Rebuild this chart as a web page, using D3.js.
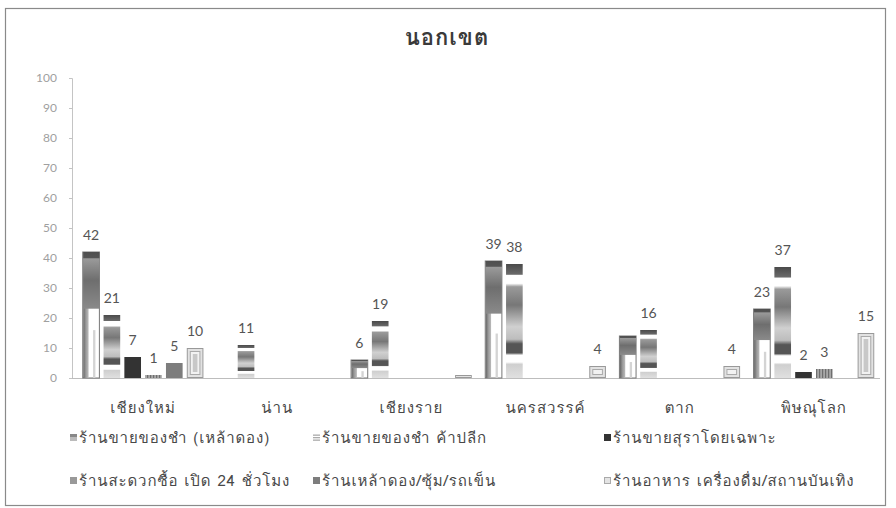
<!DOCTYPE html>
<html>
<head>
<meta charset="utf-8">
<script src="https://cdn.jsdelivr.net/npm/d3@7"></script>
<style>
  html, body { margin: 0; padding: 0; background: #fff; }
  svg { display: block; }
  .thai { font-family: "Loma", "Garuda", "Tahoma", "Noto Sans Thai Looped", "Noto Sans Thai", "Noto Sans", "DejaVu Sans", sans-serif; }
</style>
</head>
<body>
<svg id="chart" width="896" height="508"></svg>
<script>
// Provinces outside the municipal area
const categories = ['เชียงใหม่', 'น่าน', 'เชียงราย', 'นครสวรรค์', 'ตาก', 'พิษณุโลก'];

const seriesNames = [
  'ร้านขายของชำ (เหล้าดอง)',
  'ร้านขายของชำ ค้าปลีก',
  'ร้านขายสุราโดยเฉพาะ',
  'ร้านสะดวกซื้อ เปิด 24 ชั่วโมง',
  'ร้านเหล้าดอง/ซุ้ม/รถเข็น',
  'ร้านอาหาร เครื่องดื่ม/สถานบันเทิง'
];

// Number of outlets per province, one array per outlet type
const groceryPickled = [42, 0, 6, 39, 14, 23];
const groceryRetail  = [21, 11, 19, 38, 16, 37];
const liquorShops    = [7, 0, 0, 0, 0, 2];
const convenience    = [1, 0, 0, 0, 0, 3];
const stalls         = [5, 0, 0, 0, 0, 0];
const restaurants    = [10, 0, 1, 4, 4, 15];

// Bars whose value label is not printed: [province, series index]
const unlabeled = [['ตาก', 0], ['เชียงราย', 5]];

const yTicks = [0, 10, 20, 30, 40, 50, 60, 70, 80, 90, 100];

const seriesValues = [groceryPickled, groceryRetail, liquorShops, convenience, stalls, restaurants];

const svg = d3.select('#chart');
const defs = svg.append('defs');

// Banded vertical gradient for the retail grocery series
const g2 = defs.append('linearGradient').attr('id', 'bands').attr('x1', 0).attr('y1', 0).attr('x2', 0).attr('y2', 1);
[[0, '#4a4a4a'], [0.09, '#6a6a6a'], [0.1, '#fff'], [0.17, '#fff'], [0.2, '#9a9a9a'], [0.36, '#777'],
 [0.55, '#d0d0d0'], [0.66, '#bdbdbd'], [0.7, '#555'], [0.78, '#555'], [0.8, '#fff'], [0.86, '#fff'],
 [0.88, '#cfcfcf'], [1, '#e0e0e0']].forEach(([o, c]) => g2.append('stop').attr('offset', o).attr('stop-color', c));

// Shaded upper block of the pickled-liquor grocery series
const g1 = defs.append('linearGradient').attr('id', 'upper').attr('x1', 0).attr('y1', 0).attr('x2', 0).attr('y2', 1);
[[0, '#4f4f4f'], [0.1, '#555'], [0.12, '#9a9a9a'], [0.5, '#6e6e6e'], [1, '#8a8a8a']]
  .forEach(([o, c]) => g1.append('stop').attr('offset', o).attr('stop-color', c));
const g1l = defs.append('linearGradient').attr('id', 'leftcol').attr('x1', 0).attr('y1', 0).attr('x2', 1).attr('y2', 0);
[[0, '#666'], [0.5, '#9a9a9a'], [1, '#bbb']].forEach(([o, c]) => g1l.append('stop').attr('offset', o).attr('stop-color', c));

// Vertical hatching for convenience stores
const p4 = defs.append('pattern').attr('id', 'vlines').attr('patternUnits', 'userSpaceOnUse').attr('width', 3).attr('height', 3);
p4.append('rect').attr('width', 3).attr('height', 3).attr('fill', '#a8a8a8');
p4.append('rect').attr('width', 1.2).attr('height', 3).attr('fill', '#6e6e6e');

const yScale = d3.scaleLinear().domain([0, 100]).range([378, 78]);
const x0 = d3.scaleBand().domain(categories).range([76, 881]).paddingInner(0).paddingOuter(0);
const bw = x0.bandwidth();
const x1 = d3.scaleBand().domain(d3.range(seriesNames.length)).range([bw / 2 - 64.5, bw / 2 + 64.5]).padding(0.2);

// Frame
svg.append('rect').attr('x', 5.5).attr('y', 8.5).attr('width', 880).attr('height', 497)
  .attr('fill', '#fff').attr('stroke', '#8a8a8a').attr('stroke-width', 1.2);

// Title
svg.append('text').attr('class', 'thai').attr('x', 447).attr('y', 45)
  .attr('text-anchor', 'middle').attr('font-size', 22).attr('font-weight', 'bold')
  .attr('letter-spacing', 1).attr('fill', '#3a3a3a')
  .text('นอกเขต');

// Y axis
const yAxis = svg.append('g').attr('transform', 'translate(72,0)')
  .call(d3.axisLeft(yScale).tickValues(yTicks).tickSize(3).tickPadding(12));
yAxis.select('.domain').attr('stroke', '#c4c4c4');
yAxis.selectAll('.tick line').attr('stroke', '#c4c4c4');
yAxis.selectAll('.tick text').attr('font-family', 'Lato, "Open Sans", sans-serif')
  .attr('font-size', 12).attr('fill', '#a0a0a0');

// X axis
const xAxis = svg.append('g').attr('transform', 'translate(0,378)')
  .call(d3.axisBottom(x0).tickSize(0).tickPadding(24));
xAxis.select('.domain').attr('stroke', '#bdbdbd').attr('d', 'M72,0.5H880');
xAxis.selectAll('.tick text').attr('class', 'thai').attr('font-size', 15)
  .attr('letter-spacing', 1).attr('fill', '#484848');

// Bars
const bars = [];
categories.forEach((c, ci) => {
  seriesValues.forEach((vals, si) => {
    bars.push({ cat: c, si, v: vals[ci] });
  });
});

const barW = x1.bandwidth();
const plot = svg.append('g');

function drawBar(g, d) {
  const x = x0(d.cat) + x1(d.si);
  const y = yScale(d.v);
  const h = yScale(0) - y;
  const w = barW;
  if (h <= 0) return;
  if (d.si === 0) {
    g.append('rect').attr('x', x).attr('y', y).attr('width', w).attr('height', h)
      .attr('fill', '#fff').attr('stroke', '#777').attr('stroke-width', 1);
    g.append('rect').attr('x', x + 0.5).attr('y', y).attr('width', w * 0.32).attr('height', h).attr('fill', 'url(#leftcol)');
    g.append('rect').attr('x', x + 0.5).attr('y', y).attr('width', w - 0.5).attr('height', h * 0.45).attr('fill', 'url(#upper)');
    g.append('rect').attr('x', x + w * 0.62).attr('y', y + h * 0.62).attr('width', w * 0.14).attr('height', h * 0.38).attr('fill', '#d4d4d4');
  } else if (d.si === 1) {
    g.append('rect').attr('x', x).attr('y', y).attr('width', w).attr('height', h).attr('fill', 'url(#bands)');
  } else if (d.si === 2) {
    g.append('rect').attr('x', x).attr('y', y).attr('width', w).attr('height', h).attr('fill', '#333');
  } else if (d.si === 3) {
    g.append('rect').attr('x', x).attr('y', y).attr('width', w).attr('height', h).attr('fill', 'url(#vlines)');
  } else if (d.si === 4) {
    g.append('rect').attr('x', x).attr('y', y).attr('width', w).attr('height', h).attr('fill', '#7d7d7d');
  } else {
    g.append('rect').attr('x', x + 0.5).attr('y', y + 0.5).attr('width', w - 1).attr('height', Math.max(h - 1, 0.5))
      .attr('fill', '#e2e2e2').attr('stroke', '#999').attr('stroke-width', 1);
    if (h > 8) {
      g.append('rect').attr('x', x + 3.5).attr('y', y + 3.5).attr('width', w - 7).attr('height', h - 7)
        .attr('fill', '#f2f2f2').attr('stroke', '#aaa').attr('stroke-width', 1);
      g.append('rect').attr('x', x + 6).attr('y', y + 6).attr('width', w - 12).attr('height', h - 12)
        .attr('fill', '#c8c8c8');
    }
  }
}

bars.forEach(d => drawBar(plot.append('g'), d));

// Value labels
const isUnlabeled = d => unlabeled.some(([c, s]) => c === d.cat && s === d.si);
plot.selectAll('text.val').data(bars.filter(d => d.v > 0 && !isUnlabeled(d))).join('text')
  .attr('class', 'val')
  .attr('x', d => x0(d.cat) + x1(d.si) + barW / 2)
  .attr('y', d => yScale(d.v) - 12)
  .attr('text-anchor', 'middle')
  .attr('font-family', 'Lato, "Open Sans", sans-serif')
  .attr('font-size', 14).attr('fill', '#555')
  .text(d => d.v);

// Legend
const legendPos = [[70, 438], [313, 438], [604, 438], [70, 481], [313, 481], [604, 481]];
const legend = svg.append('g');
seriesNames.forEach((name, i) => {
  const [lx, ly] = legendPos[i];
  const g = legend.append('g').attr('transform', `translate(${lx},${ly})`);
  if (i === 0) {
    g.append('rect').attr('x', 0).attr('y', -4).attr('width', 7).attr('height', 7).attr('fill', '#bbb');
    g.append('rect').attr('x', 0).attr('y', -4).attr('width', 7).attr('height', 3).attr('fill', '#888');
  } else if (i === 1) {
    [-3.5, -1, 1.5].forEach(yy => g.append('rect').attr('x', 0).attr('y', yy).attr('width', 7).attr('height', 1.3).attr('fill', '#aaa'));
  } else if (i === 2) {
    g.append('rect').attr('x', 0).attr('y', -4).attr('width', 7).attr('height', 7).attr('fill', '#333');
  } else if (i === 3) {
    g.append('rect').attr('x', 0).attr('y', -4).attr('width', 7).attr('height', 7).attr('fill', '#999');
  } else if (i === 4) {
    g.append('rect').attr('x', 0).attr('y', -4).attr('width', 7).attr('height', 7).attr('fill', '#7d7d7d');
  } else {
    g.append('rect').attr('x', 0.5).attr('y', -3.5).attr('width', 6).attr('height', 6).attr('fill', '#e4e4e4').attr('stroke', '#aaa');
  }
  g.append('text').attr('class', 'thai').attr('x', 9).attr('y', 0).attr('dy', '0.35em')
    .attr('font-size', 15).attr('letter-spacing', 0.9).attr('fill', '#484848').text(name);
});
</script>
</body>
</html>
